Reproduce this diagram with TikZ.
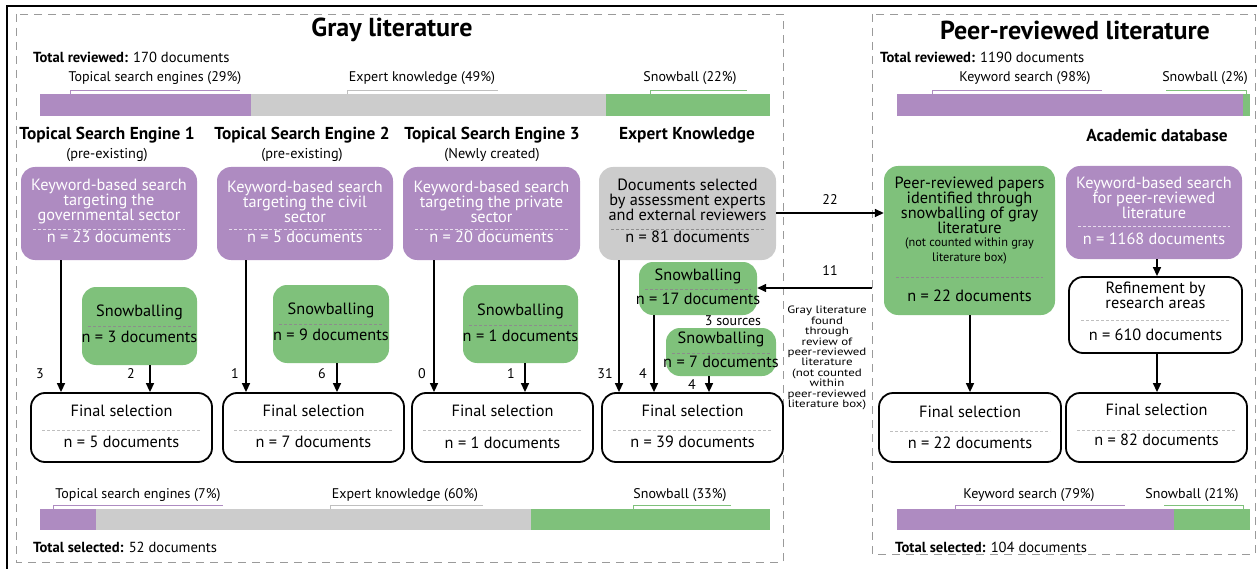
\documentclass[tikz,border=0pt]{standalone}
\usepackage{fontspec}
\setmainfont{PT Sans}
\usetikzlibrary{positioning,arrows.meta}

\definecolor{kwpurple}{HTML}{AE8BC1}
\definecolor{snowgreen}{HTML}{7FC17B}
\definecolor{expgray}{HTML}{CCCCCC}
\definecolor{framegray}{HTML}{9A9A9A}

\tikzset{
  box/.style={rounded corners=14pt, inner sep=0pt},
  kwbox/.style={box, fill=kwpurple},
  snowbox/.style={box, fill=snowgreen},
  expbox/.style={box, fill=expgray},
  finalbox/.style={box, draw=black, line width=1.8pt, fill=white},
  txt/.style={font=\fontsize{16.3}{15}\selectfont, align=center, inner sep=0pt},
  wtxt/.style={txt, text=white},
  smalltxt/.style={font=\fontsize{12.3}{15}\selectfont, align=center, inner sep=0pt},
  notetxt/.style={font=\fontsize{10.6}{10.4}\selectfont\addfontfeature{FakeStretch=1.22}, align=center, inner sep=0pt},
  sepw/.style={white!70!kwpurple, dash pattern=on 3pt off 2pt, line width=0.8pt},
  sepg/.style={black!45, dash pattern=on 3pt off 2pt, line width=0.8pt},
  sepl/.style={black!25, dash pattern=on 3pt off 2pt, line width=0.8pt},
  arr/.style={-{Triangle[length=9pt,width=8pt]}, line width=1.5pt},
  num/.style={font=\fontsize{14}{14}\selectfont, inner sep=0pt},
  head/.style={font=\fontsize{17.3}{17}\bfseries\selectfont, inner sep=0pt},
  subhead/.style={font=\fontsize{14.3}{14}\selectfont, inner sep=0pt},
  bartxt/.style={font=\fontsize{14}{14}\selectfont, inner sep=0pt},
  total/.style={font=\fontsize{14.6}{14}\selectfont, inner sep=0pt, anchor=west},
  litbox/.style={framegray, dash pattern=on 8pt off 6pt, line width=0.9pt},
}

\begin{document}
\begin{tikzpicture}[x=1pt,y=-1pt]
  \useasboundingbox (0,0) rectangle (1257,569);
  \draw[line width=1.5pt] (7,569) -- (7,6) -- (1257,6);

  % literature frames
  \draw[litbox] (16,14) rectangle (783,562);
  \draw[litbox] (872,14) rectangle (1255,554);
  \node[font=\fontsize{26}{26}\bfseries\selectfont] (graytitle) at (392,30) {Gray literature};
  \node[font=\fontsize{26}{26}\bfseries\selectfont] (peertitle) at (1075,30) {Peer-reviewed literature};
  \node[total] (grayrev) at (33,57) {\textbf{Total reviewed:} 170 documents};
  \node[total] (peerrev) at (880,57) {\textbf{Total reviewed:} 1190 documents};
  \node[total] (graysel) at (33,547) {\textbf{Total selected:} 52 documents};
  \node[total] (peersel) at (895,547) {\textbf{Total selected:} 104 documents};

  % bars, reviewed
  \fill[kwpurple] (40,94) rectangle (251,116);
  \fill[expgray] (251,94) rectangle (606,116);
  \fill[snowgreen] (606,94) rectangle (770,116);
  \fill[kwpurple] (897,94) rectangle (1243,116);
  \fill[snowgreen] (1243,94) rectangle (1250,116);
  \node[bartxt] (lbtop1) at (155,78) {Topical search engines (29\%)};
  \node[bartxt] (lbtop2) at (422,78) {Expert knowledge (49\%)};
  \node[bartxt] (lbtop3) at (690,78) {Snowball (22\%)};
  \node[bartxt] (lbtop4) at (1025,78) {Keyword search (98\%)};
  \node[bartxt] (lbtop5) at (1205,78) {Snowball (2\%)};
  \draw[kwpurple, line width=1pt] (70,94) -- (70,90.5) -- (240,90.5);
  \draw[black!25, line width=1pt] (347,94) -- (347,90.5) -- (498,90.5);
  \draw[snowgreen, line width=1pt] (650,94) -- (650,90.5) -- (747,90.5);
  \draw[kwpurple, line width=1pt] (932,94) -- (932,90.5) -- (1102,90.5);
  \draw[snowgreen, line width=1pt] (1166,90.5) -- (1246,90.5) -- (1246,94);

  % bars, selected
  \fill[kwpurple] (40,509) rectangle (96,530);
  \fill[expgray] (96,509) rectangle (531,530);
  \fill[snowgreen] (531,509) rectangle (770,530);
  \fill[kwpurple] (897,509) rectangle (1174,530);
  \fill[snowgreen] (1174,509) rectangle (1250,530);
  \node[bartxt] (lbbot1) at (138,495) {Topical search engines (7\%)};
  \node[bartxt] (lbbot2) at (405,495) {Expert knowledge (60\%)};
  \node[bartxt] (lbbot3) at (680,495) {Snowball (33\%)};
  \node[bartxt] (lbbot4) at (1029,495) {Keyword search (79\%)};
  \node[bartxt] (lbbot5) at (1192,495) {Snowball (21\%)};
  \draw[kwpurple, line width=1pt] (53,509) -- (53,505) -- (223,505);
  \draw[black!25, line width=1pt] (330,509) -- (330,505) -- (483,505);
  \draw[snowgreen, line width=1pt] (633,509) -- (633,505) -- (731,505);
  \draw[kwpurple, line width=1pt] (955,509) -- (955,505) -- (1125,505);
  \draw[snowgreen, line width=1pt] (1164,505) -- (1243,505) -- (1243,509);

  % column headings
  \node[head] (h1) at (107,135) {Topical Search Engine 1};
  \node[subhead] (h1s) at (107,155) {(pre-existing)};
  \node[head] (h2) at (302,135) {Topical Search Engine 2};
  \node[subhead] (h2s) at (302,155) {(pre-existing)};
  \node[head] (h3) at (492,135) {Topical Search Engine 3};
  \node[subhead] (h3s) at (492,155) {(Newly created)};
  \node[head] (h4) at (687,135) {Expert Knowledge};
  \node[head] (h5) at (1157,135) {Academic database};

  % search boxes
  \node[kwbox, minimum width=176, minimum height=93] (kw1) at (109,213.5) {};
  \node[wtxt] (kw1t) at (109,202) {Keyword-based search\\targeting the\\governmental sector};
  \draw[sepw] (33,229) -- (185,229);
  \node[wtxt] (kw1n) at (109,237) {n = 23 documents};

  \node[kwbox, minimum width=176, minimum height=93] (kw2) at (305,213.5) {};
  \node[wtxt] (kw2t) at (305,202) {Keyword-based search\\targeting the civil\\sector};
  \draw[sepw] (229,229) -- (381,229);
  \node[wtxt] (kw2n) at (305,237) {n = 5 documents};

  \node[kwbox, minimum width=177, minimum height=93] (kw3) at (491.5,213.5) {};
  \node[wtxt] (kw3t) at (491.5,202) {Keyword-based search\\targeting the private\\sector};
  \draw[sepw] (415,229) -- (568,229);
  \node[wtxt] (kw3n) at (491.5,237) {n = 20 documents};

  \node[expbox, minimum width=177, minimum height=93] (exp) at (687.5,213.5) {};
  \node[txt] (expt) at (687.5,200) {Documents selected\\by assessment experts\\and external reviewers};
  \draw[sepg] (611,229) -- (764,229);
  \node[txt] (expn) at (687.5,237) {n = 81 documents};

  % snowballing boxes
  \node[snowbox, minimum width=115, minimum height=78] (sb1) at (139.5,326) {};
  \node[txt] (sb1t) at (139.5,312) {Snowballing};
  \draw[sepg] (88,326) -- (191,326);
  \node[txt] (sb1n) at (139.5,337) {n = 3 documents};

  \node[snowbox, minimum width=116, minimum height=78] (sb2) at (331,324) {};
  \node[txt] (sb2t) at (331,310) {Snowballing};
  \draw[sepg] (279,324) -- (383,324);
  \node[txt] (sb2n) at (331,335) {n = 9 documents};

  \node[snowbox, minimum width=115, minimum height=78] (sb3) at (520.5,324) {};
  \node[txt] (sb3t) at (520.5,311) {Snowballing};
  \draw[sepg] (469,325) -- (572,325);
  \node[txt] (sb3n) at (520.5,336) {n = 1 documents};

  \node[snowbox, minimum width=118, minimum height=53] (sb4) at (698,288.5) {};
  \node[txt] (sb4t) at (698,276) {Snowballing};
  \draw[sepg] (645,289) -- (751,289);
  \node[txt] (sb4n) at (698,299) {n = 17 documents};

  \node[num] (src) at (733,321) {3 sources};
  \node[snowbox, minimum width=110, minimum height=48] (sb5) at (721,352) {};
  \node[txt] (sb5t) at (721,339) {Snowballing};
  \draw[sepg] (672,353) -- (770,353);
  \node[txt] (sb5n) at (721,362) {n = 7 documents};

  % final selection boxes, gray literature
  \node[finalbox, minimum width=181, minimum height=69] (fs1) at (121.5,427.5) {};
  \node[txt] (fs1t) at (121.5,411) {Final selection};
  \draw[sepl] (42,430) -- (201,430);
  \node[txt] (fs1n) at (121.5,442) {n = 5 documents};

  \node[finalbox, minimum width=181, minimum height=69] (fs2) at (313.5,427.5) {};
  \node[txt] (fs2t) at (313.5,411) {Final selection};
  \draw[sepl] (234,430) -- (393,430);
  \node[txt] (fs2n) at (313.5,442) {n = 7 documents};

  \node[finalbox, minimum width=181, minimum height=69] (fs3) at (502.5,427.5) {};
  \node[txt] (fs3t) at (502.5,411) {Final selection};
  \draw[sepl] (423,430) -- (582,430);
  \node[txt] (fs3n) at (502.5,443) {n = 1 documents};

  \node[finalbox, minimum width=181, minimum height=69] (fs4) at (692.5,427.5) {};
  \node[txt] (fs4t) at (692.5,411) {Final selection};
  \draw[sepl] (613,430) -- (772,430);
  \node[txt] (fs4n) at (692.5,442) {n = 39 documents};

  % peer-reviewed boxes
  \node[snowbox, minimum width=171, minimum height=149] (pr) at (969.5,240.5) {};
  \node[txt] (prt) at (969.5,205) {Peer-reviewed papers\\identified through\\snowballing of gray\\literature};
  \node[smalltxt] (prs) at (969.5,250.5) {(not counted within gray\\literature box)};
  \draw[sepg] (896,277) -- (1043,277);
  \node[txt] (prn) at (969.5,296) {n = 22 documents};

  \node[kwbox, minimum width=176, minimum height=93] (kwp) at (1154,212.5) {};
  \node[wtxt] (kwpt) at (1154,197.5) {Keyword-based search\\for peer-reviewed\\literature};
  \draw[sepw] (1078,226) -- (1230,226);
  \node[wtxt] (kwpn) at (1154,239) {n = 1168 documents};

  \node[finalbox, minimum width=173, minimum height=76] (ref) at (1155.5,315) {};
  \node[txt] (reft) at (1155.5,295.5) {Refinement by\\research areas};
  \draw[sepl] (1081,320) -- (1230,320);
  \node[txt] (refn) at (1155.5,335) {n = 610 documents};

  \node[finalbox, minimum width=182, minimum height=69] (fsa) at (970,427.5) {};
  \node[txt] (fsat) at (970,412) {Final selection};
  \draw[sepl] (890,431) -- (1050,431);
  \node[txt] (fsan) at (970,443) {n = 22 documents};

  \node[finalbox, minimum width=181, minimum height=69] (fsb) at (1156.5,427.5) {};
  \node[txt] (fsbt) at (1156.5,410) {Final selection};
  \draw[sepl] (1077,430) -- (1236,430);
  \node[txt] (fsbn) at (1156.5,440) {n = 82 documents};

  % cross-over note
  \node[notetxt] (note) at (827,358)
    {Gray literature\\found\\through\\review of\\peer-reviewed\\literature\\(not counted\\within\\peer-reviewed\\literature box)};

  % connectors
  \draw[arr] (61,0 |- kw1.south) -- (61,0 |- fs1.north);
  \draw[arr] (150,0 |- sb1.south) -- (150,0 |- fs1.north);
  \draw[arr] (246,0 |- kw2.south) -- (246,0 |- fs2.north);
  \draw[arr] (337,0 |- sb2.south) -- (337,0 |- fs2.north);
  \draw[arr] (434,0 |- kw3.south) -- (434,0 |- fs3.north);
  \draw[arr] (525,0 |- sb3.south) -- (525,0 |- fs3.north);
  \draw[arr] (619,0 |- exp.south) -- (619,0 |- fs4.north);
  \draw[arr] (654,0 |- sb4.south) -- (654,0 |- fs4.north);
  \draw[arr] (709,0 |- sb5.south) -- (709,0 |- fs4.north);
  \node[num] (n1) at (40,374) {3};
  \node[num] (n2) at (131,374) {2};
  \node[num] (n3) at (235,374) {1};
  \node[num] (n4) at (322,374) {6};
  \node[num] (n5) at (422,374) {0};
  \node[num] (n6) at (511,374) {1};
  \node[num] (n7) at (605,374) {31};
  \node[num] (n8) at (643,374) {4};
  \node[num] (n9) at (692,385) {4};

  \draw[arr] (exp.east |- 0,213) -- (pr.west |- 0,213);
  \node[num] (n22) at (830,200) {22};
  \coordinate (peeredge) at (872,288);
  \draw[arr] (peeredge) -- (sb4.east |- peeredge);
  \node[num] (n11) at (830,271) {11};

  \draw[arr] (kwp.south -| 1157,0) -- (ref.north -| 1157,0);
  \draw[arr] (ref.south -| 1157,0) -- (fsb.north -| 1157,0);
  \draw[arr] (pr.south -| 970,0) -- (fsa.north -| 970,0);
\end{tikzpicture}
\end{document}
